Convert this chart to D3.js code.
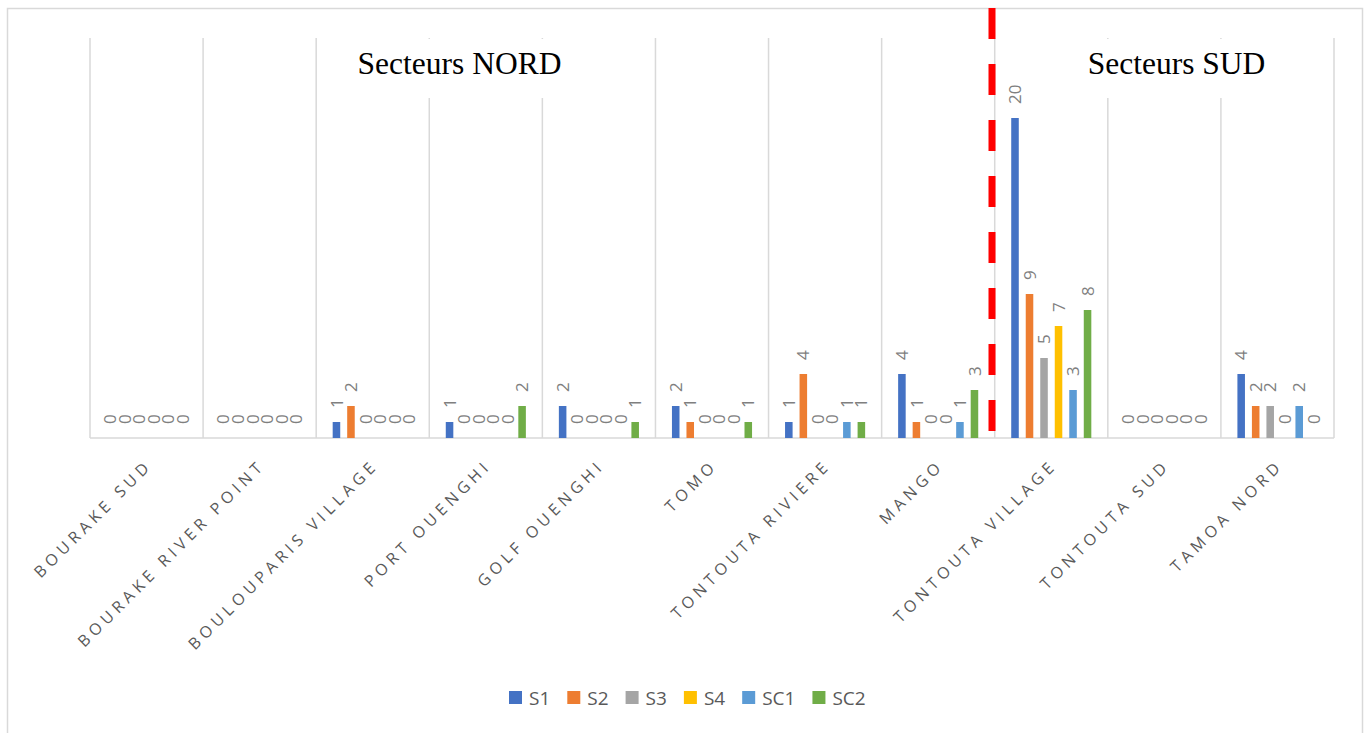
<!DOCTYPE html>
<html><head><meta charset="utf-8">
<script src="https://cdn.jsdelivr.net/npm/d3@7"></script>
<style>html,body{margin:0;padding:0;background:#fff;}svg{display:block;}</style>
</head><body>
<svg id="chart" width="1370" height="733"></svg>
<script>
const categories = ["BOURAKE SUD","BOURAKE RIVER POINT","BOULOUPARIS VILLAGE","PORT OUENGHI","GOLF OUENGHI","TOMO","TONTOUTA RIVIERE","MANGO","TONTOUTA VILLAGE","TONTOUTA SUD","TAMOA NORD"];
const seriesNames = ["S1","S2","S3","S4","SC1","SC2"];
const seriesColors = ["#4472C4","#ED7D31","#A5A5A5","#FFC000","#5B9BD5","#70AD47"];
const S1  = [0,0,1,1,2,2,1,4,20,0,4];
const S2  = [0,0,2,0,0,1,4,1,9,0,2];
const S3  = [0,0,0,0,0,0,0,0,5,0,2];
const S4  = [0,0,0,0,0,0,0,0,7,0,0];
const SC1 = [0,0,0,0,0,0,1,1,3,0,2];
const SC2 = [0,0,0,2,1,1,1,3,8,0,0];
const seriesValues = [S1,S2,S3,S4,SC1,SC2];
const sectorTitles = ["Secteurs NORD","Secteurs SUD"];

const svg = d3.select("#chart");
// outer chart border
svg.append("rect").attr("x",7.5).attr("y",8.5).attr("width",1355).attr("height",740)
  .attr("fill","#fff").attr("stroke","#d9d9d9").attr("stroke-width",1.5);

const x = d3.scaleBand().domain(categories).range([90,1334]).padding(0);
const y = d3.scaleLinear().domain([0,25]).range([438,38]);
const xs = d3.scaleBand().domain(seriesNames).range([16.5, x.bandwidth()-16.5]).paddingInner(0.48).paddingOuter(0);

// vertical category gridlines
const bounds = categories.map(c=>x(c)).concat([x.range()[1]]);
svg.append("g").selectAll("line").data(bounds).join("line")
  .attr("x1",d=>d).attr("x2",d=>d).attr("y1",y(25)).attr("y2",y(0))
  .attr("stroke","#d9d9d9").attr("stroke-width",1.5);

// title boxes + titles
const titleData = [{t:sectorTitles[0], cx:459.5, bx:340, bw:250},{t:sectorTitles[1], cx:1176.5, bx:1060, bw:235}];
svg.append("g").selectAll("rect").data(titleData).join("rect")
  .attr("x",d=>d.bx).attr("y",y(25)+1).attr("width",d=>d.bw).attr("height",59).attr("fill","#fff");
svg.append("g").selectAll("text").data(titleData).join("text")
  .attr("x",d=>d.cx).attr("y",74).attr("text-anchor","middle")
  .attr("font-family","'Liberation Serif','Times New Roman',serif").attr("font-size",31.5)
  .attr("fill","#000").text(d=>d.t);

// baseline
svg.append("line").attr("x1",x.range()[0]).attr("x2",x.range()[1]).attr("y1",y(0)).attr("y2",y(0))
  .attr("stroke","#d9d9d9").attr("stroke-width",1.5);

// bars
const flat = [];
categories.forEach((c,ci)=>seriesNames.forEach((s,si)=>flat.push({c,s,si,v:seriesValues[si][ci]})));
svg.append("g").selectAll("rect").data(flat.filter(d=>d.v>0)).join("rect")
  .attr("x",d=>x(d.c)+xs(d.s)).attr("width",xs.bandwidth())
  .attr("y",d=>y(d.v)).attr("height",d=>y(0)-y(d.v))
  .attr("fill",d=>seriesColors[d.si]);

// data labels
svg.append("g").selectAll("text").data(flat).join("text")
  .attr("transform",d=>`translate(${x(d.c)+xs(d.s)+xs.bandwidth()/2},${y(d.v)-14}) rotate(-90)`)
  .attr("dy","0.36em")
  .attr("font-family","'Open Sans',sans-serif").attr("font-size",17).attr("fill","#7f7f7f")
  .text(d=>d.v);

// red dashed separator
svg.append("line").attr("x1",992).attr("x2",992).attr("y1",8).attr("y2",432)
  .attr("stroke","#ff0000").attr("stroke-width",7).attr("stroke-dasharray","31 25");

// category labels
svg.append("g").selectAll("text").data(categories).join("text")
  .attr("transform",d=>`translate(${x(d)+x.bandwidth()/2+6.6},${466.4}) rotate(-45)`)
  .attr("text-anchor","end")
  .attr("font-family","'Open Sans',sans-serif").attr("font-size",16).attr("letter-spacing","4.5px")
  .attr("fill","#595959").text(d=>d);

// legend
const lg = svg.append("g");
let lx = 509;
seriesNames.forEach((s,i)=>{
  lg.append("rect").attr("x",lx).attr("y",691).attr("width",13).attr("height",13).attr("fill",seriesColors[i]);
  const t = lg.append("text").attr("x",lx+20).attr("y",704.5)
    .attr("font-family","'Open Sans',sans-serif").attr("font-size",19).attr("fill","#595959").text(s);
  lx += 20 + t.node().getComputedTextLength() + 17;
});
</script>
</body></html>
